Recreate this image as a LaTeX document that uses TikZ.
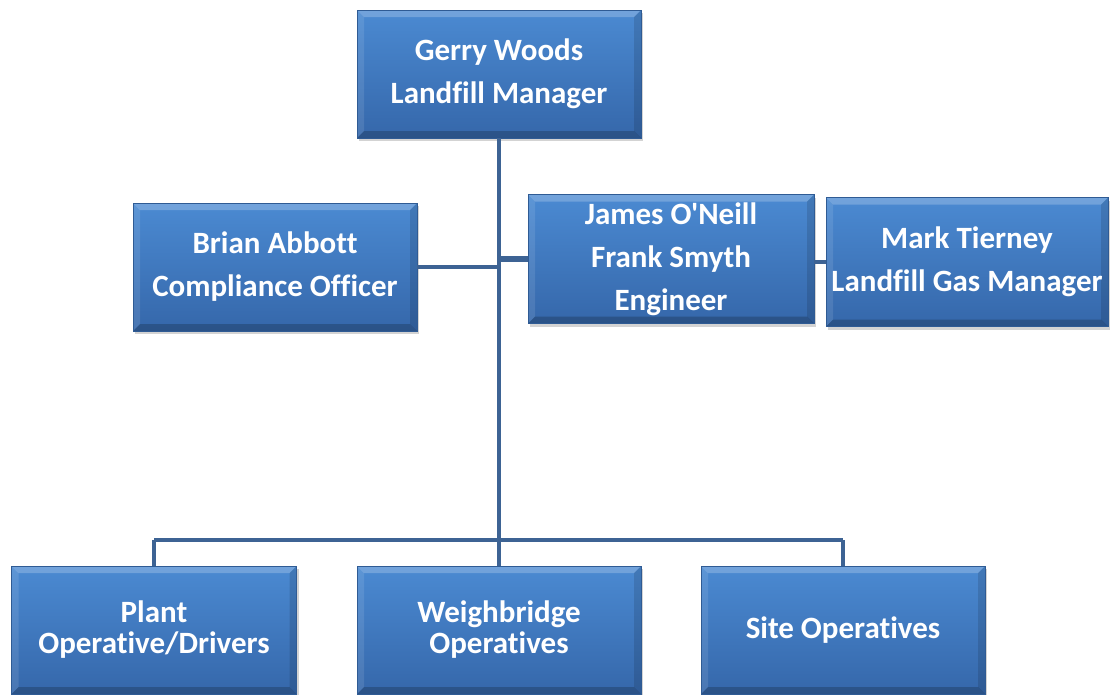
\documentclass[tikz,border=0pt]{standalone}
\usepackage{fontspec}
\newfontfamily\boxfont{Carlito}[Ligatures=NoCommon]
\usepackage{tikz}
\usetikzlibrary{positioning}
\usetikzlibrary{shadows}
\definecolor{boxtop}{HTML}{4B8AD2}
\definecolor{boxbot}{HTML}{3567AA}
\definecolor{boxrim}{HTML}{2F5B94}
\definecolor{linkblue}{HTML}{3D6394}
\begin{document}
\begin{tikzpicture}
        [x=1pt,y=-1pt,
        bevel/.style={path picture={
                \fill[white,opacity=0.22] (path picture bounding box.north west) -- (path picture bounding box.north east)
                        -- ++(-7,7) -- ([shift={(7,7)}]path picture bounding box.north west) -- cycle;
                \fill[white,opacity=0.1] (path picture bounding box.north west) -- ([shift={(7,7)}]path picture bounding box.north west)
                        -- ([shift={(7,-7)}]path picture bounding box.south west) -- (path picture bounding box.south west) -- cycle;
                \fill[black,opacity=0.12] (path picture bounding box.north east) -- ([shift={(-7,7)}]path picture bounding box.north east)
                        -- ([shift={(-7,-7)}]path picture bounding box.south east) -- (path picture bounding box.south east) -- cycle;
                \fill[black,opacity=0.2] (path picture bounding box.south west) -- (path picture bounding box.south east)
                        -- ++(-7,-7) -- ([shift={(7,-7)}]path picture bounding box.south west) -- cycle;}},
        person/.style={rectangle,draw=boxrim,thin,top color=boxtop,bottom color=boxbot,bevel,
minimum width=284pt,minimum height=128pt,inner sep=2pt,text=white,align=center,
font=\boxfont\fontsize{31}{43}\selectfont\bfseries,drop shadow={opacity=0.35,shadow xshift=2pt,shadow yshift=-3pt}},
        crew/.style={person,font=\boxfont\fontsize{31}{31}\selectfont\bfseries},
        link/.style={draw=linkblue,line width=3.5pt},
        thick link/.style={draw=linkblue,line width=6pt}]
\useasboundingbox (0,0) rectangle (1110,694);

% Lines %
\coordinate (mid) at (499,265);
\coordinate (bar) at (499,540);
\coordinate (barL) at (154,540);
\coordinate (barR) at (843,540);

% Manager %
\node[person] (gerry) at (499,74) {Gerry Woods\\Landfill Manager};

% Staff %
\node[person] (brian) at (275,267) {Brian Abbott\\Compliance Officer};
\node[person,minimum width=286pt,minimum height=129pt] (james) at (671,259) {James O'Neill\\Frank Smyth\\Engineer};
\node[person,minimum width=282pt,minimum height=129pt] (mark) at (967,262) {Mark Tierney\\Landfill Gas Manager};

% Operatives %
\node[crew,minimum width=285pt] (plant) at (154,630) {Plant\\Operative/Drivers};
\node[crew] (weigh) at (499,630) {Weighbridge\\Operatives};
\node[crew] (site) at (843,630) {Site Operatives};

% Pfade %
\path[link] (gerry.south) -- (bar);
\path[link] (brian.east) -- (brian.east -| mid);
\path[thick link] (mid |- james.west) -- (james.west);
\path[link] (james.east |- mark.west) -- (mark.west);
\path[link] (barL) -- (barR);
\path[link] (barL) -- (plant.north -| barL);
\path[link] (bar) -- (weigh.north);
\path[link] (barR) -- (site.north);
\end{tikzpicture}
\end{document}
